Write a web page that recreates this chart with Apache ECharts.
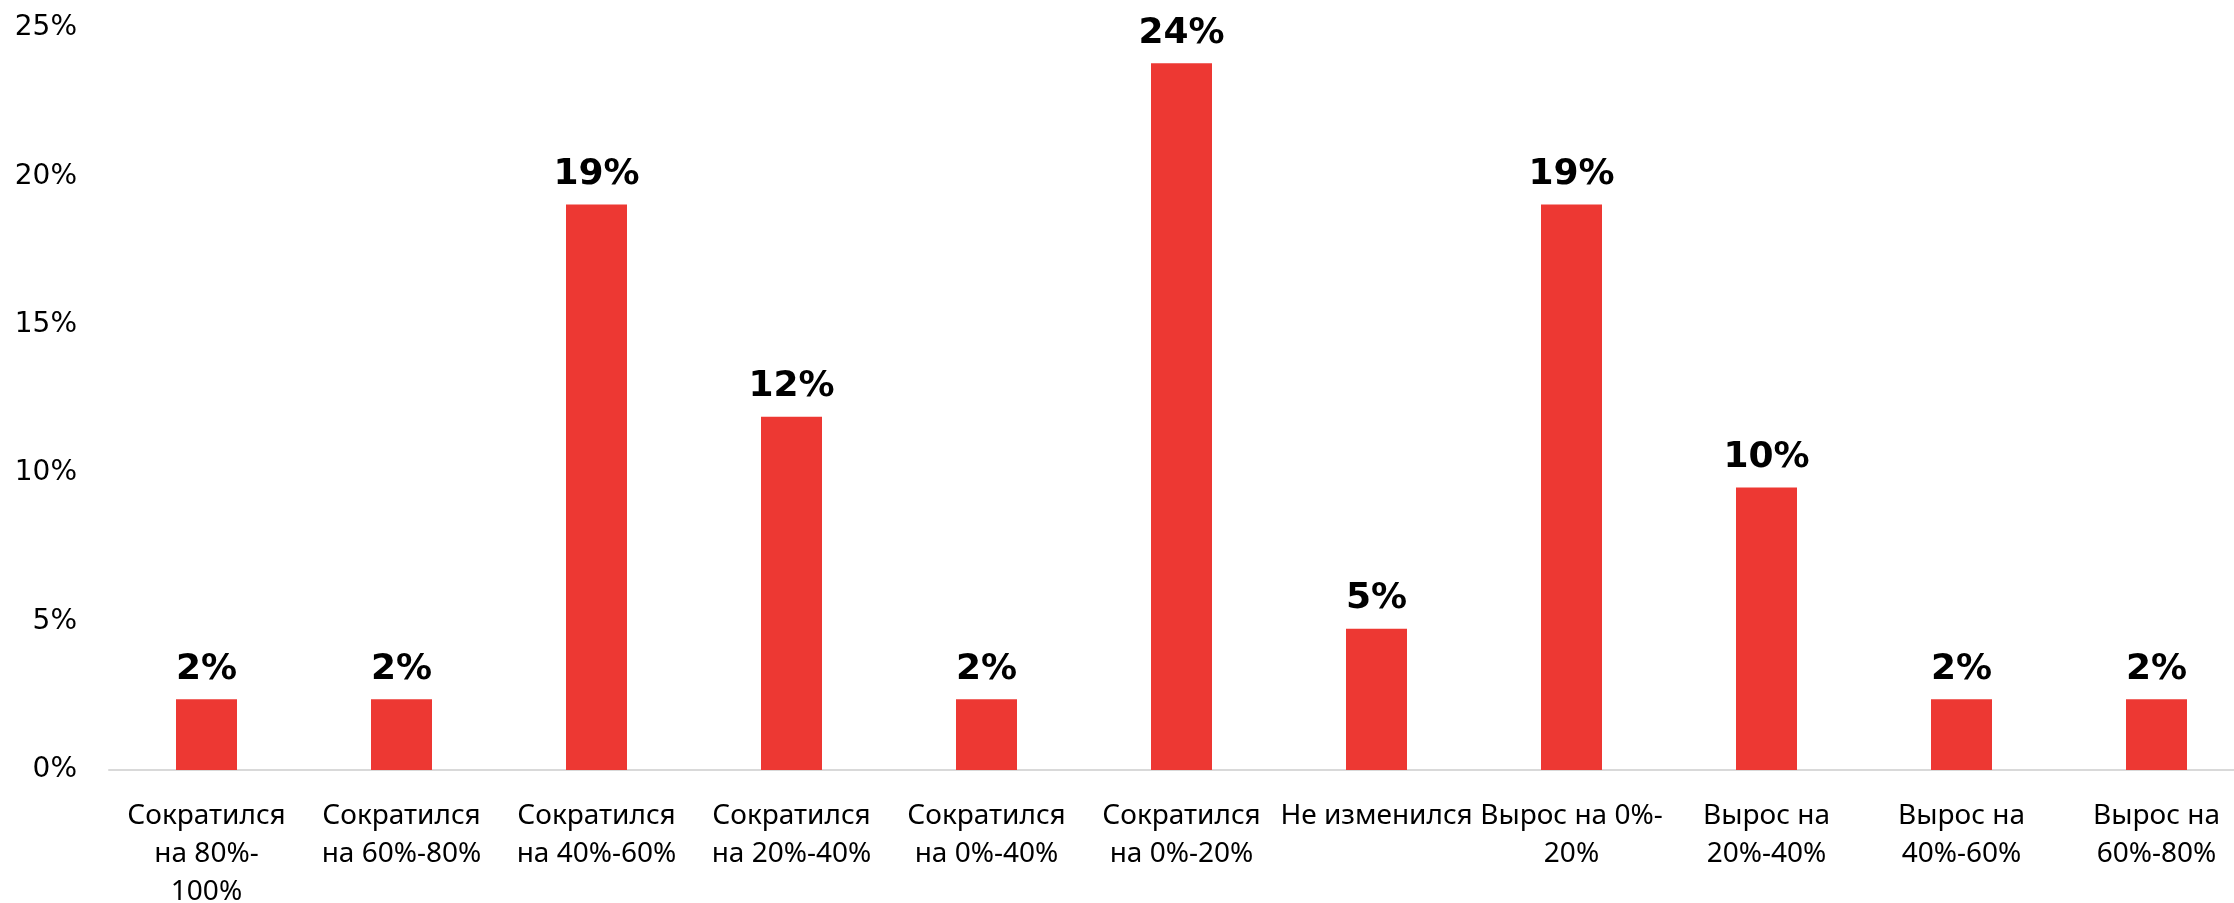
<!DOCTYPE html>
<html>
<head>
<meta charset="utf-8">
<script src="https://cdn.jsdelivr.net/npm/echarts@6/dist/echarts.min.js"></script>
<style>
  html, body { margin: 0; padding: 0; background: #ffffff; }
  #chart { width: 2234px; height: 903px; }
</style>
</head>
<body>
<div id="chart"></div>
<script>
// Change in volume: answer shares, %
const categories = [
  'Сократился\nна 80%-\n100%',
  'Сократился\nна 60%-80%',
  'Сократился\nна 40%-60%',
  'Сократился\nна 20%-40%',
  'Сократился\nна 0%-40%',
  'Сократился\nна 0%-20%',
  'Не изменился',
  'Вырос на 0%-\n20%',
  'Вырос на\n20%-40%',
  'Вырос на\n40%-60%',
  'Вырос на\n60%-80%'
];
const shares = [2.38, 2.38, 19.05, 11.90, 2.38, 23.81, 4.76, 19.05, 9.52, 2.38, 2.38];
const yTicks = [0, 5, 10, 15, 20, 25];

const chart = echarts.init(document.getElementById('chart'), null, { renderer: 'canvas' });

chart.setOption({
  animation: false,
  backgroundColor: '#ffffff',
  grid: { left: 109, top: 28, width: 2145, bottom: 133, outerBoundsMode: 'none', containLabel: false },
  xAxis: {
    type: 'category',
    data: categories,
    axisLine: { show: true, lineStyle: { color: '#d9d9d9', width: 2 } },
    axisTick: { show: false },
    axisLabel: {
      interval: 0,
      margin: 27,
      color: '#000000',
      fontFamily: 'Noto Sans',
      fontSize: 28,
      lineHeight: 38,
      align: 'center'
    }
  },
  yAxis: {
    type: 'value',
    min: yTicks[0],
    max: yTicks[yTicks.length - 1],
    interval: 5,
    splitLine: { show: false },
    axisLine: { show: false },
    axisTick: { show: false },
    axisLabel: {
      margin: 32,
      color: '#000000',
      fontFamily: 'DejaVu Sans',
      fontSize: 28,
      formatter: '{value}%'
    }
  },
  series: [{
    type: 'bar',
    data: shares,
    barWidth: 61,
    itemStyle: { color: '#ED3833' },
    label: {
      show: true,
      position: 'top',
      distance: 12,
      color: '#000000',
      fontFamily: 'DejaVu Sans',
      fontWeight: 'bold',
      fontSize: 36,
      formatter: p => Math.round(p.value) + '%'
    }
  }]
});
</script>
</body>
</html>
